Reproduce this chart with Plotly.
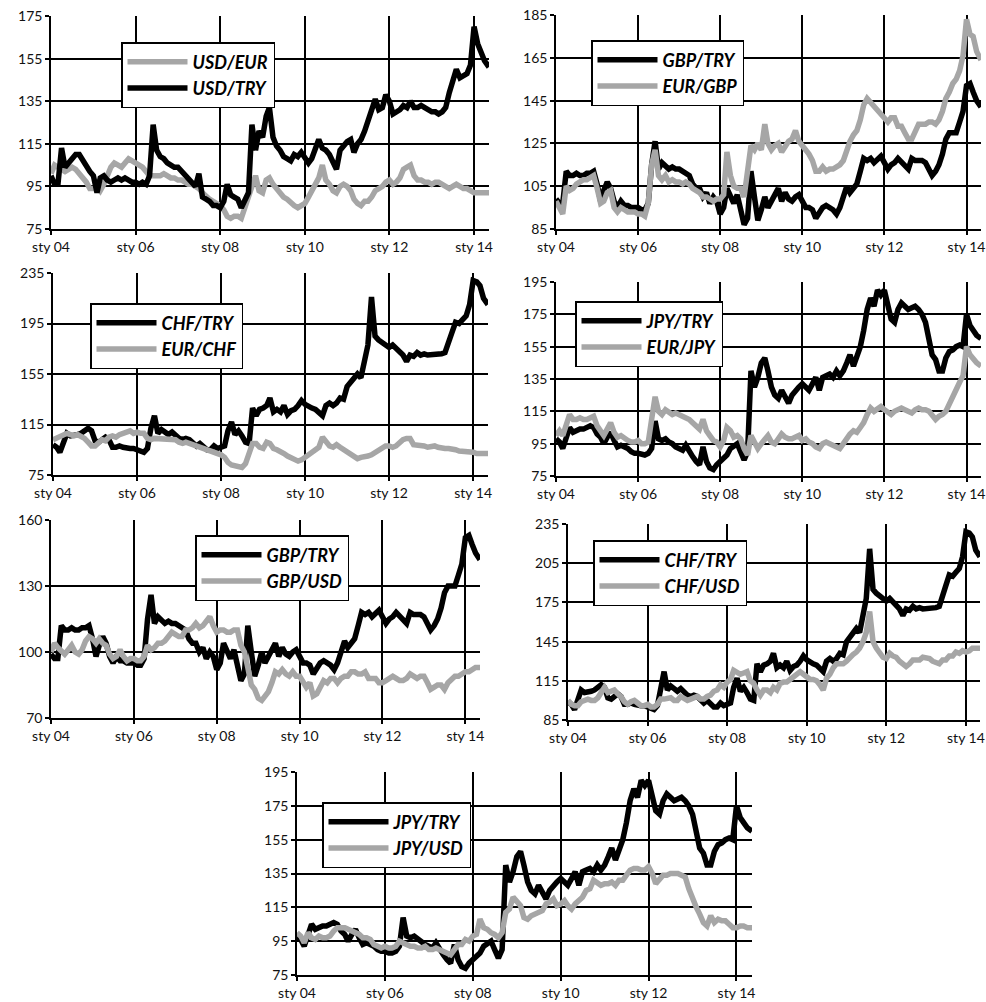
import plotly.graph_objects as go

W, H = 986, 1002

MONTHS = [f"{y}-{m:02d}-01" for y in range(2004, 2015) for m in range(1, 13)]
DATES = MONTHS[:124] + ["2014-05-10"]

TICK_VALS = ["2004-01-01", "2006-01-01", "2008-01-01", "2010-01-01", "2012-01-01", "2014-01-01"]
TICK_TEXT = ["sty 04", "sty 06", "sty 08", "sty 10", "sty 12", "sty 14"]

USD_TRY = [
    100, 96, 96, 113, 104, 106, 108, 110, 110, 107, 104, 102,
    100, 92, 99, 100, 98, 97, 98, 99, 98, 99, 98, 97,
    97, 96, 97, 96, 100, 124, 112, 109, 108, 106, 105, 104,
    104, 102, 101, 99, 97, 95, 101, 90, 89, 88, 86, 86,
    85, 88, 96, 91, 90, 89, 85, 88, 92, 124, 112, 121,
    118, 128, 132, 118, 114, 112, 109, 108, 107, 110, 109, 111,
    109, 106, 108, 112, 117, 113, 112, 110, 106, 103, 112, 114,
    116, 117, 111, 115, 117, 121, 126, 130, 136, 131, 132, 138,
    135, 129, 130, 131, 133, 132, 135, 132, 132, 133, 132, 131,
    130, 130, 129, 130, 132, 139, 144, 150, 146, 147, 148, 152,
    170, 162, 158, 154, 151,
]
USD_EUR = [
    101, 105, 104, 103, 102, 103, 104, 103, 101, 100, 97, 94,
    94, 95, 93, 96, 100, 104, 106, 105, 104, 106, 108, 107,
    106, 105, 104, 102, 100, 100, 100, 100, 101, 100, 99, 99,
    98, 98, 97, 96, 96, 95, 94, 92, 90, 89, 88, 87,
    86, 84, 81, 80, 81, 81, 80, 85, 90, 96, 100, 93,
    92, 98, 99, 96, 94, 91, 90, 89, 87, 86, 85, 86,
    87, 90, 93, 95, 99, 105, 98, 96, 93, 92, 95, 96,
    95, 93, 89, 87, 86, 88, 88, 90, 93, 94, 95, 97,
    98, 96, 97, 99, 103, 104, 105, 100, 98, 98, 97, 97,
    96, 97, 97, 96, 95, 94, 95, 96, 95, 94, 94, 93,
    92, 92, 92, 92, 92,
]
GBP_TRY = [
    99, 97, 97, 112, 110, 110, 111, 110, 110, 111, 111, 112,
    106, 98, 103, 107, 104, 98, 95, 98, 96, 96, 95, 95,
    95, 94, 94, 97, 115, 126, 113, 116, 114, 113, 114, 113,
    113, 112, 111, 110, 106, 104, 104, 100, 102, 97, 100, 98,
    92, 95, 104, 100, 97, 101, 95, 87, 90, 112, 100, 89,
    94, 100, 95, 98, 100, 104, 98, 102, 99, 98, 100, 101,
    98, 95, 95, 94, 90, 93, 95, 96, 95, 94, 92, 95,
    100, 105, 102, 104, 106, 112, 118, 117, 118, 116, 118, 119,
    116, 113, 115, 116, 118, 116, 114, 113, 118, 117, 117, 117,
    116, 113, 110, 112, 115, 120, 127, 130, 130, 130, 135, 140,
    152, 153, 149, 145, 142,
]
EUR_GBP = [
    98, 95, 92, 105, 103, 104, 106, 107, 108, 108, 109, 110,
    104, 97, 98, 102, 103, 95, 93, 95, 94, 93, 93, 93,
    92, 92, 91, 97, 115, 122, 110, 108, 110, 107, 108, 107,
    107, 106, 107, 106, 104, 103, 102, 100, 100, 99, 98, 99,
    99, 101, 121, 110, 105, 104, 104, 100, 115, 124, 122, 125,
    122, 134, 125, 122, 124, 125, 121, 124, 126, 127, 131, 126,
    124, 121, 120, 117, 112, 112, 114, 112, 113, 113, 114, 115,
    117, 123, 126, 129, 131, 136, 143, 146, 144, 142, 141, 139,
    137, 135, 137, 137, 133, 133, 130, 127, 127, 131, 134, 134,
    134, 135, 135, 134, 136, 140, 146, 149, 153, 155, 159, 166,
    183, 176, 175, 168, 164,
]
CHF_TRY = [
    99, 97, 93, 100, 108, 106, 106, 107, 108, 110, 112, 110,
    102, 101, 103, 105, 103, 97, 97, 98, 97, 96, 96, 96,
    95, 95, 93, 96, 112, 122, 108, 111, 109, 107, 109, 106,
    104, 103, 104, 103, 101, 98, 100, 97, 95, 95, 98, 96,
    97, 98, 110, 117, 107, 110, 106, 101, 100, 128, 122, 127,
    128, 130, 136, 125, 127, 125, 130, 123, 126, 127, 130, 134,
    131, 129, 128, 127, 125, 122, 130, 132, 130, 132, 136, 135,
    145, 148, 152, 155, 152, 167, 178, 216, 185, 182, 180, 178,
    176, 178, 175, 173, 170, 165, 170, 169, 172, 170, 171, 170,
    170, 171, 170, 171, 172, 182, 188, 196, 195, 198, 201, 210,
    229, 228, 225, 215, 210,
]
EUR_CHF = [
    103, 104, 106, 107, 108, 107, 106, 107, 106, 104, 101, 98,
    98, 101, 103, 102, 105, 106, 105, 107, 108, 110, 110, 108,
    109, 108, 108, 104, 103, 104, 104, 103, 104, 104, 103, 103,
    101, 100, 101, 100, 99, 98, 98, 97, 96, 94, 93, 92,
    91, 89, 85, 83, 82, 82, 81, 84, 91, 100, 100, 97,
    96, 101, 100, 96, 95, 94, 92, 90, 89, 88, 86, 87,
    89, 92, 94, 95, 97, 105, 101, 98, 97, 99, 97, 95,
    93, 91, 89, 88, 89, 89, 90, 91, 93, 95, 97, 98,
    98, 97, 98, 101, 103, 104, 104, 99, 99, 98, 98, 97,
    98, 98, 97, 96, 96, 96, 96, 95, 94, 94, 93, 93,
    93, 92, 92, 92, 92,
]
JPY_TRY = [
    98, 96, 92, 100, 105, 102, 103, 104, 104, 105, 106, 105,
    101, 99, 95, 99, 102, 97, 93, 94, 93, 92, 90, 89,
    89, 88, 88, 89, 92, 109, 98, 97, 98, 96, 95, 93,
    92, 91, 94, 90, 87, 84, 82, 93, 84, 80, 79, 82,
    84, 86, 88, 92, 94, 95, 90, 85, 90, 140, 130, 136,
    145, 148, 140, 130, 125, 123, 128, 124, 120, 125, 128, 130,
    132, 130, 128, 132, 136, 128, 136, 137, 138, 136, 140, 137,
    140, 145, 150, 143, 150, 155, 165, 178, 185, 180, 190, 187,
    190, 182, 172, 170, 178, 182, 180, 178, 179, 180, 178, 175,
    170, 158, 150, 147, 140, 140, 148, 152, 153, 155, 156, 155,
    175, 168, 165, 162, 160,
]
EUR_JPY = [
    100, 103, 100, 108, 113, 110, 110, 111, 110, 110, 111, 112,
    106, 102, 100, 104, 108, 102, 99, 100, 98, 97, 96, 96,
    97, 95, 95, 96, 110, 124, 115, 113, 116, 114, 113, 114,
    113, 112, 111, 110, 108, 106, 104, 110, 103, 100, 97, 96,
    93, 97, 105, 103, 99, 100, 98, 92, 88, 100, 96, 92,
    95, 98, 100, 96, 95, 98, 101, 99, 98, 98, 99, 100,
    97, 98, 96, 95, 93, 92, 95, 96, 95, 94, 93, 92,
    95, 99, 101, 103, 102, 105, 108, 113, 117, 115, 117, 118,
    116, 114, 113, 115, 116, 117, 116, 115, 114, 116, 117, 116,
    116, 115, 112, 110, 112, 113, 115, 120, 125, 130, 133, 137,
    155, 150, 147, 145, 143,
]
GBP_USD = [
    100, 104, 102, 100, 99, 101, 103, 100, 99, 101, 105, 107,
    106, 104, 106, 104, 103, 99, 97, 98, 101, 98, 96, 97,
    97, 96, 96, 98, 103, 101, 102, 104, 104, 105, 107, 109,
    108, 107, 107, 110, 110, 111, 113, 111, 112, 114, 116, 112,
    109, 110, 110, 109, 109, 110, 110, 103, 100, 93, 85, 83,
    79, 78, 80, 82, 86, 91, 90, 92, 90, 89, 91, 89,
    89, 86, 84, 86, 80, 81, 84, 87, 86, 88, 88, 86,
    88, 89, 89, 91, 91, 90, 90, 91, 88, 88, 88, 86,
    86, 87, 88, 89, 88, 87, 87, 88, 90, 89, 88, 89,
    89, 86, 83, 84, 85, 85, 83, 86, 88, 89, 89, 90,
    91, 91, 92, 93, 93,
]
CHF_USD = [
    100, 97, 96, 96, 99, 100, 101, 100, 100, 102, 106, 110,
    106, 107, 108, 105, 103, 99, 97, 99, 100, 98, 96, 96,
    97, 95, 95, 97, 101, 101, 101, 102, 100, 100, 103, 102,
    100, 101, 102, 103, 101, 101, 103, 104, 107, 108, 112, 110,
    114, 116, 123, 121, 120, 121, 122, 115, 113, 108, 104, 108,
    108, 106, 110, 108, 113, 114, 114, 116, 118, 120, 122, 120,
    118, 116, 116, 115, 112, 108, 117, 120, 125, 128, 128, 128,
    130, 133, 135, 137, 140, 145, 152, 168, 145, 140, 136, 133,
    132, 136, 134, 133, 130, 128, 126, 128, 131, 131, 131, 133,
    133, 132, 130, 129, 128, 131, 131, 134, 134, 137, 136, 138,
    137, 138, 140, 140, 140,
]
JPY_USD = [
    100, 98, 94, 100, 97, 96, 98, 97, 97, 98, 101, 103,
    103, 103, 102, 101, 100, 99, 97, 97, 96, 93, 92, 91,
    92, 91, 91, 92, 95, 94, 93, 92, 92, 91, 91, 92,
    90, 90, 91, 90, 89, 88, 87, 90, 93, 93, 96, 95,
    98, 99, 108, 103, 102, 100, 99, 97, 100, 112, 114, 121,
    118, 116, 109, 108, 110, 111, 112, 113, 117, 118, 120, 116,
    117, 119, 116, 114, 117, 119, 121, 125, 126, 131, 129, 128,
    129, 129, 130, 128, 131, 131, 134, 137, 138, 138, 137, 137,
    139, 135, 129, 131, 134, 134, 135, 135, 135, 134, 133, 126,
    120, 115, 111, 106, 104, 110, 106, 108, 107, 107, 105, 103,
    103, 104, 104, 103, 103,
]

BLACK = "#000000"
GRAY = "#a6a6a6"
FONT = "Lato"

# pixel boxes: (left, right), (top, bottom); y ticks (min, max, step); legend top-left
PANELS = [
    dict(series=[("USD/EUR", USD_EUR, GRAY), ("USD/TRY", USD_TRY, BLACK)],
         px=(51, 489), py=(16, 229), yt=(75, 175, 20), leg=(121, 42)),
    dict(series=[("GBP/TRY", GBP_TRY, BLACK), ("EUR/GBP", EUR_GBP, GRAY)],
         px=(556, 981), py=(15, 229), yt=(85, 185, 20), leg=(591, 40)),
    dict(series=[("CHF/TRY", CHF_TRY, BLACK), ("EUR/CHF", EUR_CHF, GRAY)],
         px=(53, 488), py=(273, 475), yt=(75, 235, 40), leg=(90, 303)),
    dict(series=[("JPY/TRY", JPY_TRY, BLACK), ("EUR/JPY", EUR_JPY, GRAY)],
         px=(556, 981), py=(282, 476), yt=(75, 195, 20), leg=(575, 301)),
    dict(series=[("GBP/TRY", GBP_TRY, BLACK), ("GBP/USD", GBP_USD, GRAY)],
         px=(51, 480), py=(520, 718), yt=(70, 160, 30), leg=(195, 535)),
    dict(series=[("CHF/TRY", CHF_TRY, BLACK), ("CHF/USD", CHF_USD, GRAY)],
         px=(568, 980), py=(524, 720), yt=(85, 235, 30), leg=(593, 540)),
    dict(series=[("JPY/TRY", JPY_TRY, BLACK), ("JPY/USD", JPY_USD, GRAY)],
         px=(297, 752), py=(772, 975), yt=(75, 195, 20), leg=(322, 802)),
]

fig = go.Figure()
layout = dict(
    width=W, height=H,
    margin=dict(l=0, r=0, t=0, b=0, pad=0, autoexpand=False),
    paper_bgcolor="white", plot_bgcolor="white",
    showlegend=True,
    font=dict(family=FONT, size=14, color="#111111"),
)

for i, p in enumerate(PANELS):
    n = i + 1
    xa = "x" if n == 1 else f"x{n}"
    ya = "y" if n == 1 else f"y{n}"
    lg = "legend" if n == 1 else f"legend{n}"
    for j, (name, vals, col) in enumerate(p["series"]):
        fig.add_trace(go.Scatter(
            x=DATES, y=vals, mode="lines", name=f"<b><i>{name}</i></b>",
            line=dict(color=col, width=5.5),
            xaxis=xa, yaxis=ya, legend=lg,
            legendgroup=f"g{n}_{j}",
        ))
    x0, x1 = p["px"]
    y0, y1 = p["py"]
    ymin, ymax, step = p["yt"]
    axis_common = dict(
        showline=True, linecolor="black", linewidth=1.5,
        showgrid=True, gridcolor="black", gridwidth=1.5,
        ticks="outside", ticklen=4, tickcolor="black", tickwidth=1.5,
        zeroline=False, automargin=False,
        tickfont=dict(family=FONT, size=14, color="#111111"),
    )
    layout[f"xaxis{'' if n == 1 else n}"] = dict(
        domain=[x0 / W, x1 / W], anchor=ya,
        type="date", range=["2004-01-01", "2014-05-10"],
        tickmode="array", tickvals=TICK_VALS, ticktext=TICK_TEXT,
        **axis_common,
    )
    layout[f"yaxis{'' if n == 1 else n}"] = dict(
        domain=[1 - y1 / H, 1 - y0 / H], anchor=xa,
        range=[ymin, ymax], tickmode="linear", tick0=ymin, dtick=step,
        **axis_common,
    )
    lx, ly = p["leg"]
    layout[lg] = dict(
        x=lx / W, y=1 - ly / H, xanchor="left", yanchor="top",
        bgcolor="white", bordercolor="black", borderwidth=1.5,
        font=dict(family=FONT, size=18, color="black", weight="bold", style="italic"),
        itemwidth=60, tracegroupgap=6, traceorder="normal",
    )

fig.update_layout(**layout)
fig.write_html(
    "out.html",
    config={"displayModeBar": False},
    post_script="document.body.style.margin='0';document.body.style.overflow='hidden';",
)
